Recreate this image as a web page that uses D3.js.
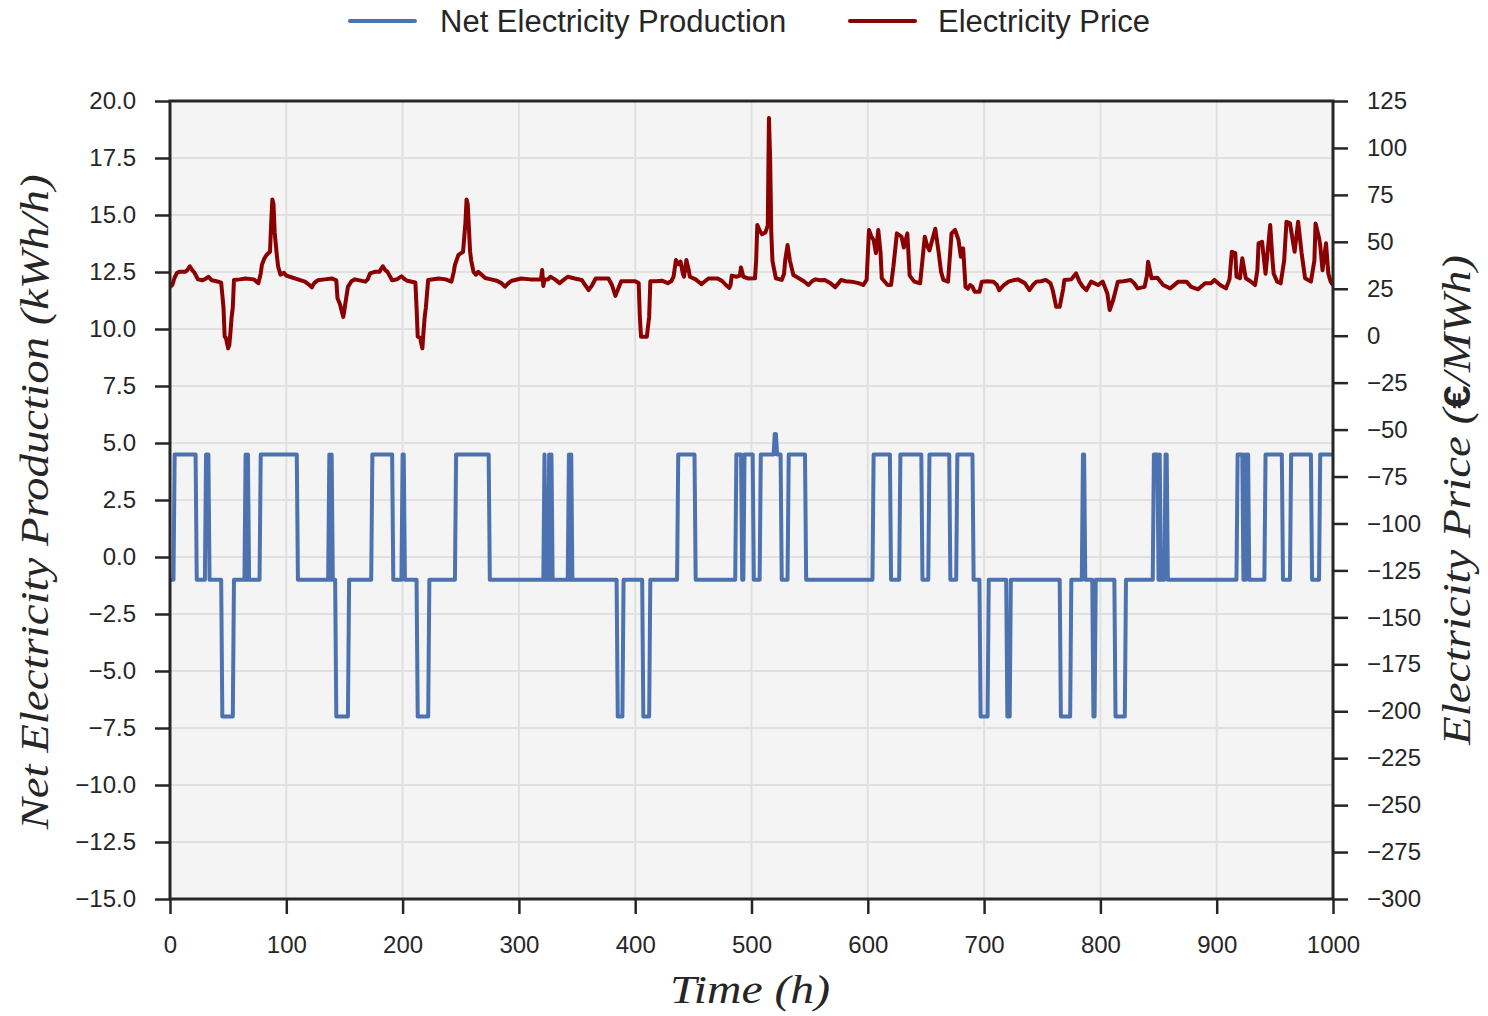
<!DOCTYPE html>
<html>
<head>
<meta charset="utf-8">
<script src="https://cdn.jsdelivr.net/npm/d3@7"></script>
<style>
  html, body { margin: 0; padding: 0; background: #ffffff; }
  svg { display: block; }
</style>
</head>
<body>
<svg id="chart" width="1488" height="1016"></svg>
<script>
// ---------------- DATA ----------------
const timeTicks = [0, 100, 200, 300, 400, 500, 600, 700, 800, 900, 1000];
const netTicks = [20, 17.5, 15, 12.5, 10, 7.5, 5, 2.5, 0, -2.5, -5, -7.5, -10, -12.5, -15];
const priceTicks = [125, 100, 75, 50, 25, 0, -25, -50, -75, -100, -125, -150, -175, -200, -225, -250, -275, -300];

const seriesNames = ["Net Electricity Production", "Electricity Price"];

// Net electricity production: constant runs (start hour, end hour, level in kWh/h)
const netRunStart = [0, 4, 23, 31, 34, 45, 55, 65, 66, 67, 68, 78, 110, 137, 138, 139, 140, 143, 154, 174, 192, 200, 202, 213, 223, 246, 275, 322, 323, 326, 327, 328, 329, 343, 344, 345, 346, 385, 390, 407, 413, 437, 452, 487, 492, 494, 502, 508, 520, 522, 526, 532, 547, 605, 620, 628, 647, 653, 671, 677, 691, 697, 704, 720, 723, 766, 775, 785, 787, 794, 796, 813, 822, 846, 850, 851, 852, 856, 858, 918, 923, 924, 925, 926, 928, 942, 957, 964, 982, 989];
const netRunEnd   = [3, 22, 30, 33, 44, 54, 64, 65, 66, 67, 77, 109, 136, 137, 138, 139, 142, 153, 173, 191, 199, 201, 212, 222, 245, 274, 321, 322, 325, 326, 327, 328, 342, 343, 344, 345, 384, 389, 406, 412, 436, 451, 486, 491, 493, 501, 507, 519, 521, 525, 531, 546, 604, 619, 627, 646, 652, 670, 676, 690, 696, 703, 719, 722, 765, 774, 784, 786, 793, 795, 812, 821, 845, 849, 850, 851, 855, 857, 917, 922, 923, 924, 925, 927, 941, 956, 963, 981, 988, 1000];
const netRunLevel = [-1, 4.5, -1, 4.5, -1, -7, -1, 4.5, -1, 4.5, -1, 4.5, -1, 4.5, -1, 4.5, -1, -7, -1, 4.5, -1, 4.5, -1, -7, -1, 4.5, -1, 4.5, -1, 4.5, -1, 4.5, -1, 4.5, -1, 4.5, -1, -7, -1, -7, -1, 4.5, -1, 4.5, -1, 4.5, -1, 4.5, 5.4, 4.5, -1, 4.5, -1, 4.5, -1, 4.5, -1, 4.5, -1, 4.5, -1, -7, -1, -7, -1, -7, -1, 4.5, -1, -7, -1, -7, -1, 4.5, -1, 4.5, -1, 4.5, -1, 4.5, -1, 4.5, -1, 4.5, -1, 4.5, -1, 4.5, -1, 4.5];

// Electricity price (€/MWh) read at selected hours
const priceHours = [
  0, 2, 4, 6, 8, 13, 15, 17, 19, 21,
  24, 28, 31, 33, 36, 40, 44, 46, 47, 48,
  50, 51, 52, 53, 54, 55, 60, 65, 72, 76,
  78, 79, 81, 83, 86, 87, 88, 89, 90, 92,
  93, 95, 98, 100, 103, 110, 116, 120, 122, 124,
  127, 133, 139, 143, 144, 146, 149, 151, 153, 156,
  159, 168, 170, 172, 176, 180, 183, 185, 187, 191,
  195, 199, 202, 204, 211, 212, 213, 215, 217, 218,
  219, 220, 222, 231, 237, 242, 244, 245, 248, 252,
  254, 255, 256, 258, 259, 261, 263, 265, 267, 271,
  276, 281, 285, 288, 291, 294, 302, 310, 316, 319,
  320, 321, 322, 325, 327, 331, 335, 339, 342, 348,
  354, 357, 360, 363, 366, 372, 377, 380, 383, 386,
  388, 395, 400, 403, 404, 405, 410, 412, 413, 418,
  423, 428, 431, 433, 435, 437, 439, 441, 442, 444,
  446, 447, 452, 455, 457, 460, 463, 467, 471, 475,
  478, 481, 482, 483, 487, 490, 491, 493, 497, 503,
  504, 505, 507, 509, 512, 514, 515, 516, 517, 518,
  519, 521, 526, 528, 529, 531, 533, 536, 540, 545,
  549, 552, 555, 559, 563, 568, 572, 577, 581, 586,
  592, 596, 599, 601, 603, 605, 607, 609, 611, 612,
  617, 620, 622, 625, 629, 631, 634, 636, 640, 645,
  649, 651, 653, 655, 658, 661, 663, 665, 669, 672,
  675, 678, 680, 682, 684, 686, 688, 690, 692, 696,
  698, 703, 708, 711, 713, 717, 721, 725, 729, 735,
  739, 742, 745, 749, 753, 757, 759, 762, 765, 768,
  769, 775, 779, 782, 785, 788, 792, 798, 802, 806,
  808, 811, 815, 820, 826, 829, 832, 838, 840, 841,
  844, 849, 854, 860, 867, 874, 878, 884, 890, 895,
  898, 903, 908, 911, 913, 916, 917, 920, 922, 925,
  929, 933, 935, 936, 939, 942, 944, 946, 948, 949,
  952, 955, 958, 960, 963, 967, 970, 973, 976, 981,
  984, 985, 988, 989, 991, 994, 996, 998, 1000
];
const priceValues = [
  26, 27, 31, 33.5, 34, 34, 35, 37, 35, 33.6,
  30, 29.5, 30.5, 31.4, 29.5, 29, 28.3, 15, -0.5, -1,
  -6.7, -5, 2, 10, 15, 29.7, 30, 30.5, 30, 28,
  33, 37.7, 41, 43, 44.7, 60, 72.6, 70, 55, 42,
  36.7, 32.5, 33.5, 32, 31.4, 30, 28.8, 27, 25.8, 28,
  29.5, 30, 30.5, 29.5, 20, 17, 10, 18, 26, 29,
  30, 28.8, 30, 33.2, 34, 34, 37, 35, 34, 29.5,
  30, 31.6, 30, 29.3, 28.3, 15, -0.5, -1, -6.7, 2,
  10, 15, 29.7, 30.5, 30, 28.8, 34, 37.7, 43, 44.7,
  60, 72.6, 70, 45, 40, 34, 32.5, 34, 33, 30.7,
  30, 29.3, 28, 26.1, 28, 29.3, 30.5, 30, 30, 30,
  35, 26.5, 30, 30, 31.4, 30, 28, 30, 31.4, 30.5,
  29.7, 27, 24.3, 27, 30.5, 30.5, 30.5, 27, 21.2, 26,
  29, 29, 29, 28, 10, -0.5, -0.5, 10, 29, 29,
  29.3, 28, 29, 31.5, 40.3, 38, 39.5, 33, 31.4, 40.3,
  35, 31.4, 30, 28.5, 27.5, 29, 30.5, 30.5, 30.5, 29,
  27, 25.5, 27, 32, 31.4, 32, 36.4, 31.4, 30.5, 30.6,
  40, 59, 56, 54, 55, 58.7, 116, 95, 55, 40,
  36.7, 30.6, 29.7, 33, 40.3, 48.3, 40, 32.3, 30.9, 29,
  27, 29, 30, 29.5, 29.7, 28, 25.8, 29.7, 29, 28.8,
  28, 27, 29.7, 56.3, 53, 51, 44, 56.3, 44, 30.6,
  27, 27, 36.7, 54.5, 52.7, 47, 54.5, 32, 28.8, 27.9,
  52.7, 48, 45.4, 50, 57, 44, 34, 29.7, 28.8, 54.5,
  56.3, 51, 42, 46.5, 26, 25, 27, 26, 23.4, 23.4,
  28.8, 29, 28.8, 27, 24.3, 27, 28.8, 29.5, 30, 28,
  24.3, 27, 28.8, 29, 29.7, 28, 24.3, 15.4, 15.4, 25,
  29.7, 30, 33.2, 28.8, 26, 24.3, 28.8, 27, 28.8, 22.5,
  13.7, 19, 28.8, 29, 29.7, 28, 25.2, 26, 32, 39.4,
  30.6, 30.9, 27, 25.2, 28.8, 28.8, 26, 24.7, 27.9, 27.9,
  29.7, 27, 25.2, 30, 44.7, 44, 31.4, 30.6, 41.2, 30.6,
  29, 27, 35, 49.2, 50, 33, 46, 59, 40, 33,
  28.8, 27.9, 40, 60.7, 59.8, 44.7, 60.7, 44, 30.6, 28.8,
  40, 59.8, 52, 48.3, 34.8, 49.2, 33, 28.8, 27
];

// ---------------- LAYOUT ----------------
const svg = d3.select("#chart");
const L = 170, R = 1333, T = 101, B = 899;
const ink = "#262626";
const blue = "#4c72b0";
const red = "#8b0000";
const tickFont = "'Liberation Sans', Arial, Helvetica, sans-serif";
const mathFont = "'Liberation Serif', 'Times New Roman', serif";

const x = d3.scaleLinear().domain([0, 1000]).range([L, R]);
const yNet = d3.scaleLinear().domain([-15, 20]).range([B, T]);
const yPrice = d3.scaleLinear().domain([-300, 125]).range([B, T]);

// background
svg.append("rect").attr("x", L).attr("y", T).attr("width", R - L).attr("height", B - T)
  .attr("fill", "#f4f4f4");

// grid
const grid = svg.append("g").attr("stroke", "#e0e0e0").attr("stroke-width", 2);
grid.selectAll("line.v").data(timeTicks).join("line")
  .attr("x1", d => x(d)).attr("x2", d => x(d)).attr("y1", T).attr("y2", B);
grid.selectAll("line.h").data(netTicks).join("line")
  .attr("x1", L).attr("x2", R).attr("y1", d => yNet(d)).attr("y2", d => yNet(d));

// clip
svg.append("clipPath").attr("id", "plotclip").append("rect")
  .attr("x", L).attr("y", T - 10).attr("width", R - L).attr("height", B - T + 20);

// net production points from runs
const netPoints = [];
netRunStart.forEach((s, i) => {
  netPoints.push([s, netRunLevel[i]]);
  if (netRunEnd[i] !== s) netPoints.push([netRunEnd[i], netRunLevel[i]]);
});
const pricePoints = priceHours.map((h, i) => [h, priceValues[i]]);

svg.append("path").datum(netPoints)
  .attr("clip-path", "url(#plotclip)")
  .attr("fill", "none").attr("stroke", blue).attr("stroke-width", 4)
  .attr("stroke-linejoin", "round")
  .attr("d", d3.line().x(d => x(d[0])).y(d => yNet(d[1])));

svg.append("path").datum(pricePoints)
  .attr("clip-path", "url(#plotclip)")
  .attr("fill", "none").attr("stroke", red).attr("stroke-width", 4)
  .attr("stroke-linejoin", "round")
  .attr("d", d3.line().x(d => x(d[0])).y(d => yPrice(d[1])));

// axes
function styleAxis(g) {
  g.select(".domain").remove();
  g.selectAll(".tick line").attr("stroke", ink).attr("stroke-width", 2.5);
  g.selectAll(".tick text").attr("fill", ink).attr("font-family", tickFont).attr("font-size", 24);
}
svg.append("g").attr("transform", `translate(${L},0)`)
  .call(d3.axisLeft(yNet).tickValues(netTicks).tickSize(15).tickPadding(19).tickFormat(d3.format(".1f")))
  .call(styleAxis);
svg.append("g").attr("transform", `translate(${R},0)`)
  .call(d3.axisRight(yPrice).tickValues(priceTicks).tickSize(15).tickPadding(19).tickFormat(d3.format("d")))
  .call(styleAxis);
svg.append("g").attr("transform", `translate(0,${B})`)
  .call(d3.axisBottom(x).tickValues(timeTicks).tickSize(15).tickPadding(22).tickFormat(d3.format("d")))
  .call(styleAxis);

// frame
svg.append("rect").attr("x", L).attr("y", T).attr("width", R - L).attr("height", B - T)
  .attr("fill", "none").attr("stroke", ink).attr("stroke-width", 3);

// axis labels
svg.append("text").attr("x", 750).attr("y", 1003).attr("text-anchor", "middle")
  .attr("font-family", mathFont).attr("font-style", "italic").attr("font-size", 40)
  .attr("fill", ink).attr("textLength", 160).attr("lengthAdjust", "spacingAndGlyphs")
  .text("Time (h)");

svg.append("text").attr("transform", "translate(48,502) rotate(-90)").attr("text-anchor", "middle")
  .attr("font-family", mathFont).attr("font-style", "italic").attr("font-size", 40)
  .attr("fill", ink).attr("textLength", 655).attr("lengthAdjust", "spacingAndGlyphs")
  .text("Net Electricity Production (kWh/h)");

const rl = svg.append("text").attr("transform", "translate(1470,500) rotate(-90)").attr("text-anchor", "middle")
  .attr("font-family", mathFont).attr("font-style", "italic").attr("font-size", 40)
  .attr("fill", ink).attr("textLength", 490).attr("lengthAdjust", "spacingAndGlyphs");
rl.append("tspan").text("Electricity Price (");
rl.append("tspan").attr("font-style", "normal").attr("font-weight", "bold")
  .attr("font-family", tickFont).attr("font-size", 36).text("€");
rl.append("tspan").text("/MWh)");

// legend
const legendItems = [
  { name: seriesNames[0], color: blue, x0: 350, tx: 440 },
  { name: seriesNames[1], color: red, x0: 850, tx: 938 }
];
const lg = svg.append("g");
legendItems.forEach(it => {
  lg.append("line").attr("x1", it.x0).attr("x2", it.x0 + 65).attr("y1", 21).attr("y2", 21)
    .attr("stroke", it.color).attr("stroke-width", 4).attr("stroke-linecap", "round");
  lg.append("text").attr("x", it.tx).attr("y", 32).attr("font-family", tickFont)
    .attr("font-size", 31).attr("fill", ink).text(it.name);
});
</script>
</body>
</html>
